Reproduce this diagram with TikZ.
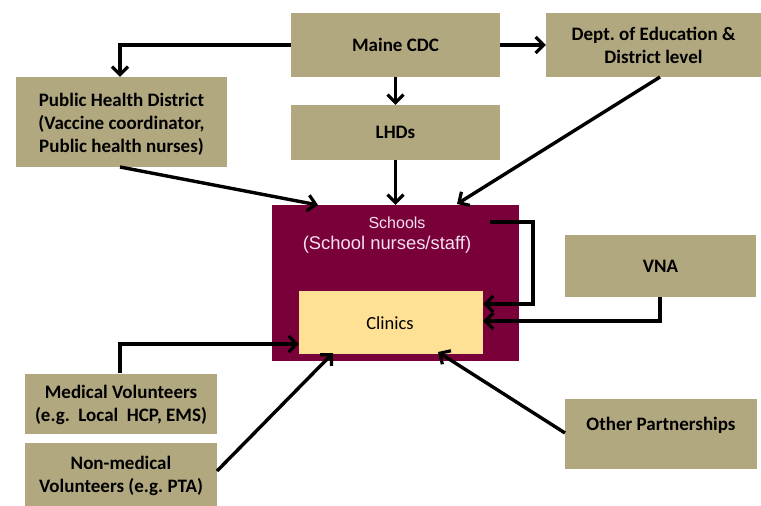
\documentclass[tikz,border=0pt]{standalone}
\usepackage{fontspec}
\setmainfont{Carlito}
\newfontfamily\arialfont{Liberation Sans}
\usetikzlibrary{arrows.meta}
\definecolor{tan}{RGB}{177,168,127}
\definecolor{maroon}{RGB}{122,0,58}
\definecolor{clinicy}{RGB}{255,225,150}
\definecolor{pinkw}{RGB}{245,225,240}
\tikzset{
  tanbox/.style={fill=tan, draw=none, inner sep=0pt, align=center, font=\frenchspacing\fontsize{19}{23}\selectfont\bfseries},
  conn/.style={line width=3.4pt, -{Straight Barb[length=8pt,width=16pt,line width=3.2pt]}},
}
\begin{document}
\begin{tikzpicture}[x=1pt,y=-1pt]
\useasboundingbox (0,0) rectangle (761,506);
% boxes
\node[tanbox, minimum width=209pt, minimum height=64pt] (cdc) at (395.5,45) {Maine CDC};
\node[tanbox, minimum width=215pt, minimum height=64pt] (dept) at (653.5,45) {Dept. of Education \&\\District level};
\node[tanbox, minimum width=211pt, minimum height=90pt] (phd) at (121.5,122) {};
\node[tanbox] (phdt) at (121.5,124.5) {Public Health District\\(Vaccine coordinator,\\Public health nurses)};
\node[tanbox, minimum width=209pt, minimum height=55pt] (lhd) at (395.5,132.5) {LHDs};
\node[fill=maroon, minimum width=247pt, minimum height=156pt, inner sep=0pt] (sch) at (395.5,283) {};
\node[text=pinkw, font=\arialfont\fontsize{16}{18}\selectfont] (schl) at (397,223) {Schools};
\node[text=pinkw, font=\arialfont\fontsize{18.4}{20}\selectfont] (schn) at (387,245) {(School nurses/staff)};
\node[fill=clinicy, minimum width=184pt, minimum height=63pt, inner sep=0pt] (cli) at (391,322.5) {};
\node[font=\fontsize{18.5}{20}\selectfont] (clit) at (390,323) {Clinics};
\node[tanbox, minimum width=191pt, minimum height=62pt] (vna) at (660.5,266) {VNA};
\node[tanbox, minimum width=192pt, minimum height=70pt] (oth) at (661,434) {};
\node[tanbox] (otht) at (661,425) {Other Partnerships};
\node[tanbox, minimum width=192pt, minimum height=60pt] (med) at (121,403.5) {};
\node[tanbox] (medt) at (121,405) {Medical Volunteers\\(e.g.\ \ Local\ \ HCP, EMS)};
\node[tanbox, minimum width=192pt, minimum height=63pt] (non) at (121,474.5) {};
\node[tanbox] (nont) at (121,475.5) {Non-medical\\Volunteers (e.g. PTA)};
% connectors
\coordinate (c1) at (120,45);
\draw[conn] (cdc.west) -- (c1) -- (phd.north -| c1);
\draw[conn] (cdc.east) -- (dept.west);
\draw[conn] (cdc.south) -- (lhd.north);
\draw[conn] (lhd.south) -- (sch.north -| lhd.south);
\coordinate (p1) at (120,167);
\coordinate (p2) at (318,205);
\draw[conn] (p1) -- (p2);
\coordinate (d1) at (660,77);
\coordinate (d2) at (457,204);
\draw[conn] (d1) -- (d2);
\coordinate (s1) at (490,222);
\coordinate (s2) at (533,222);
\coordinate (s3) at (533,304);
\draw[conn] (s1) -- (s2) -- (s3) -- (cli.east |- s3);
\coordinate (v1) at (660,321);
\draw[conn] (vna.south -| v1) -- (v1) -- (cli.east |- v1);
\coordinate (m1) at (120,344);
\draw[conn] (med.north -| m1) -- (m1) -- (cli.west |- m1);
\coordinate (n1) at (217,471);
\coordinate (n2) at (333,353);
\draw[conn] (n1) -- (n2);
\coordinate (o1) at (565,433);
\coordinate (o2) at (438,352);
\draw[conn] (o1) -- (o2);
\end{tikzpicture}
\end{document}
